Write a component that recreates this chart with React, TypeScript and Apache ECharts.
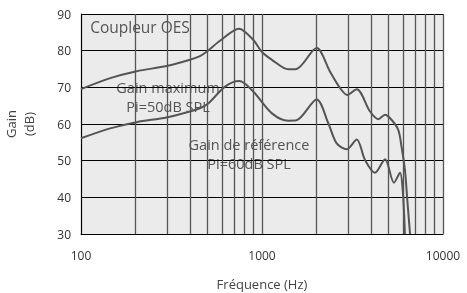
import React, { useEffect, useRef } from "react";
import * as echarts from "echarts";

const freqCoupleur = [100, 145, 203, 297, 400, 454, 494, 586, 746, 896, 996, 1135, 1397, 1550, 2005, 2375, 2700, 2960, 3337, 3953, 4390, 4783, 5205, 5660, 5900, 6160, 6350, 6574];
const gainCoupleur = [69.5, 72.5, 74.4, 75.8, 77.5, 78.5, 79.7, 82.7, 86.0, 82.9, 79.7, 77.5, 74.9, 75.0, 80.7, 74.3, 69.8, 67.9, 69.5, 63.4, 61.3, 62.5, 61.1, 58.4, 53.8, 47.5, 39.3, 30];

const freqMax = [100, 145, 203, 297, 400, 454, 505, 625, 750, 896, 1135, 1397, 1550, 2005, 2325, 2586, 2937, 3337, 3707, 4210, 4783, 5360, 5787, 5990, 6160];
const gainMax = [56.1, 58.8, 60.5, 61.8, 63.4, 64.3, 65.6, 70.2, 71.7, 68.8, 62.9, 60.9, 61.0, 66.7, 60.2, 54.7, 53.1, 55.8, 50.2, 46.7, 50.4, 44.0, 46.7, 42.0, 30];

const minorFreqs = [200, 300, 400, 500, 600, 700, 800, 900, 2000, 3000, 4000, 5000, 6000, 7000, 8000, 9000];

const yTicks = { min: 30, max: 90, interval: 10 };
const xRange = { min: 100, max: 10000 };

const labels = [
  { text: "Coupleur OES", x: 140, y: 27, size: 15.5 },
  { text: "Gain maximum\nPi=50dB SPL", x: 168, y: 97, size: 14.5 },
  { text: "Gain de référence\nPi=60dB SPL", x: 249, y: 154, size: 14.5 },
];

const FONT = "'Open Sans', 'DejaVu Sans', sans-serif";

export default function App() {
  const ref = useRef<HTMLDivElement>(null);
  useEffect(() => {
    if (!ref.current) return;
    const chart = echarts.init(ref.current, null, { renderer: "svg" });
    const pair = (xs: number[], ys: number[]) => xs.map((x, i) => [x, ys[i]]);
    chart.setOption({
      animation: false,
      textStyle: { fontFamily: FONT },
      grid: {
        left: 81,
        right: 24,
        top: 14,
        bottom: 59,
        show: true,
        backgroundColor: "#ebebeb",
        borderWidth: 0,
        containLabel: false,
        outerBoundsMode: "none",
      },
      xAxis: {
        type: "log",
        logBase: 10,
        min: xRange.min,
        max: xRange.max,
        z: 1,
        name: "Fréquence (Hz)",
        nameLocation: "middle",
        nameGap: 43,
        nameTextStyle: { color: "#444", fontSize: 13, fontFamily: FONT },
        axisLine: { show: true, lineStyle: { color: "#000", width: 1 } },
        axisTick: { show: false },
        axisLabel: {
          color: "#333",
          fontSize: 12,
          margin: 15,
          fontFamily: FONT,
          formatter: (v: number) => String(Math.round(v)),
        },
        splitLine: { show: true, lineStyle: { color: "#555", width: 1.3 } },
      },
      yAxis: {
        type: "value",
        min: yTicks.min,
        max: yTicks.max,
        interval: yTicks.interval,
        z: 1,
        name: "Gain\n(dB)",
        nameLocation: "middle",
        nameRotate: 90,
        nameGap: 43,
        nameTextStyle: { color: "#444", fontSize: 13, lineHeight: 18, fontFamily: FONT },
        axisLine: { show: true, lineStyle: { color: "#000", width: 1 } },
        axisTick: { show: false },
        axisLabel: { color: "#333", fontSize: 12, margin: 10, fontFamily: FONT },
        splitLine: { show: true, lineStyle: { color: "#000", width: 1 } },
      },
      graphic: labels.map((l) => ({
        type: "text",
        x: l.x,
        y: l.y,
        z: 0,
        silent: true,
        style: {
          text: l.text,
          fill: "#555",
          fontSize: l.size,
          lineHeight: 19,
          fontFamily: FONT,
          align: "center",
          verticalAlign: "middle",
        },
      })),
      series: [
        {
          type: "line",
          data: pair(freqCoupleur, gainCoupleur),
          smooth: 0.3,
          symbol: "none",
          z: 3,
          lineStyle: { color: "#555", width: 2 },
          markLine: {
            silent: true,
            symbol: "none",
            label: { show: false },
            lineStyle: { color: "#555", width: 1.3, type: "solid" },
            data: minorFreqs.map((f) => ({ xAxis: f })),
            z: 2,
          },
        },
        {
          type: "line",
          data: pair(freqMax, gainMax),
          smooth: 0.3,
          symbol: "none",
          z: 3,
          lineStyle: { color: "#555", width: 2 },
        },
      ],
    });
    return () => chart.dispose();
  }, []);
  return <div ref={ref} style={{ position: "fixed", left: 0, top: 0, width: 467, height: 293 }} />;
}
